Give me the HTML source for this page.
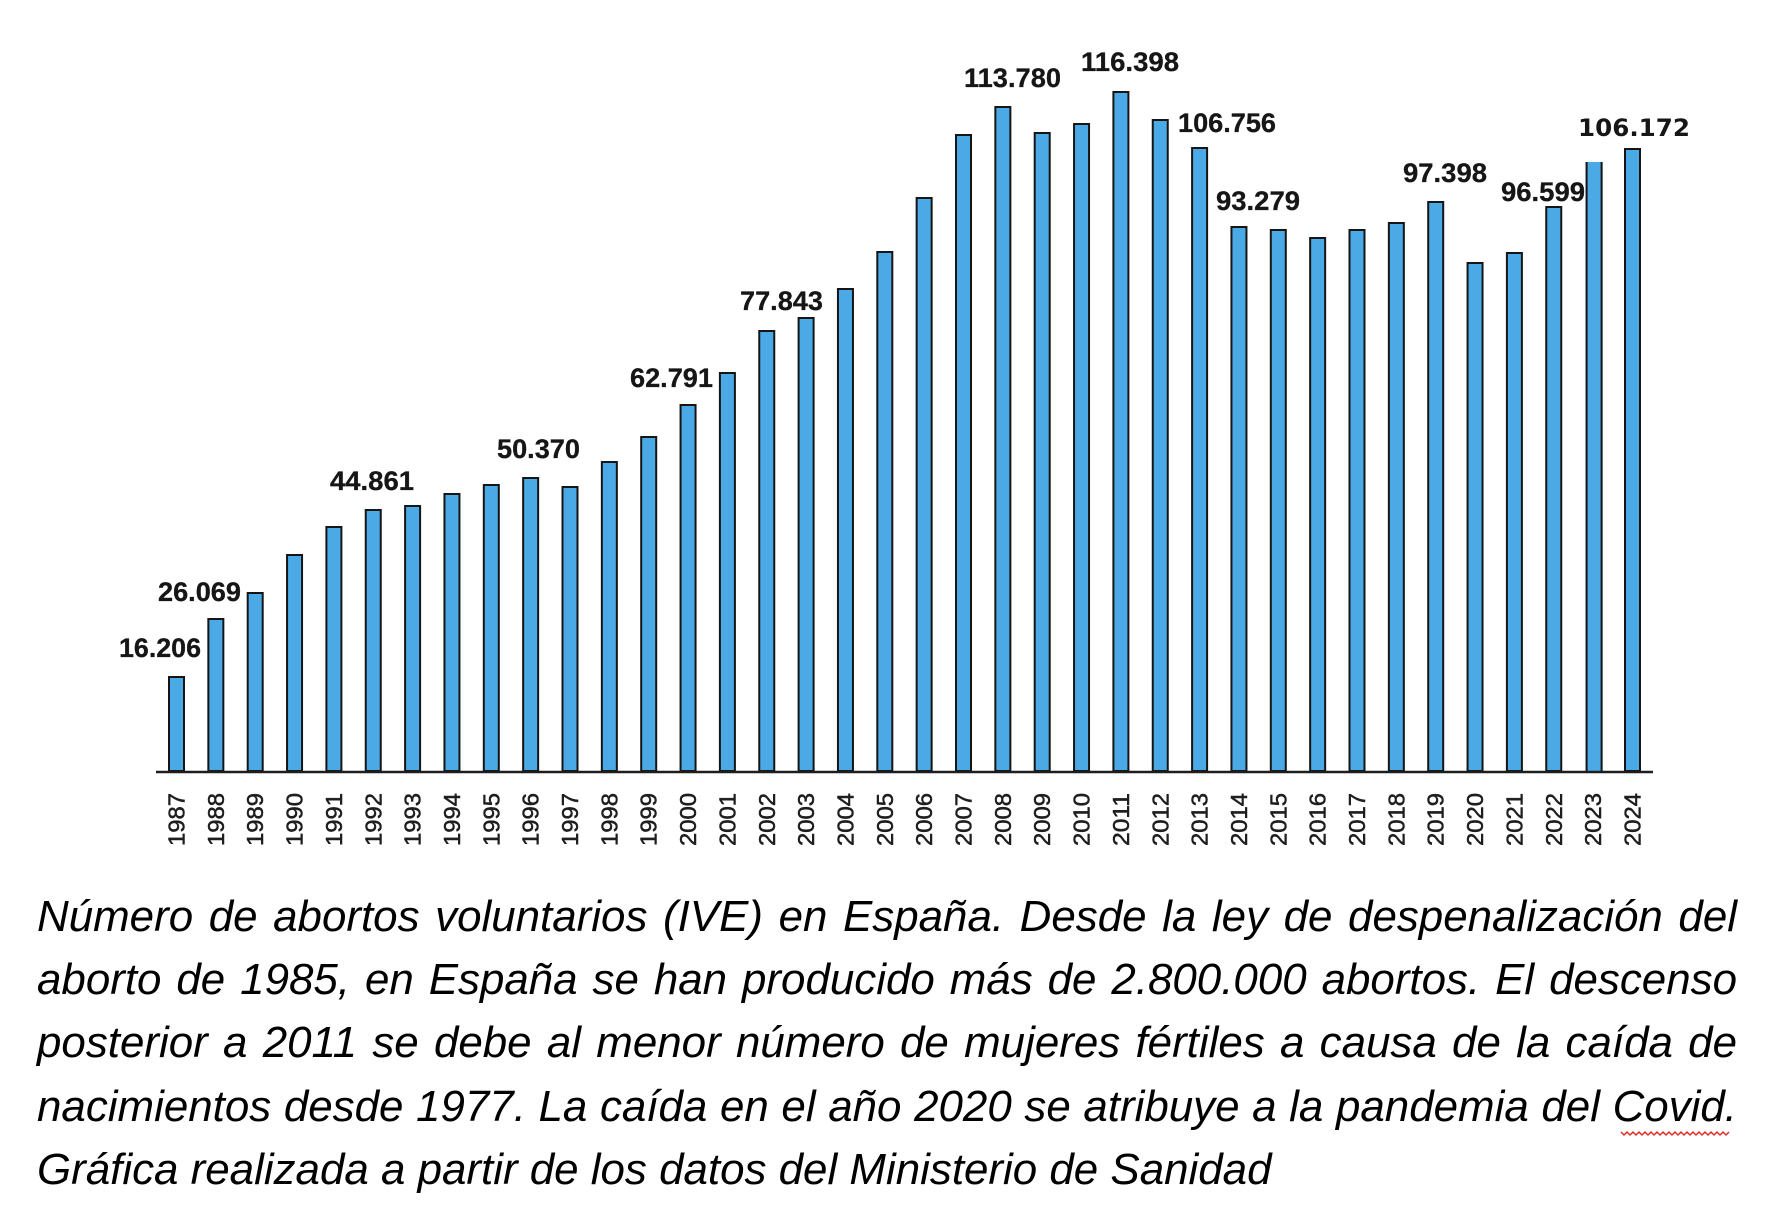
<!DOCTYPE html>
<html>
<head>
<meta charset="utf-8">
<style>
  html,body{margin:0;padding:0;background:#fff;}
  body{width:1781px;height:1228px;position:relative;overflow:hidden;}
  svg{position:absolute;left:0;top:0;}
  .cap{position:absolute;left:37px;width:1700px;font-family:"Liberation Sans",Arial,sans-serif;font-style:italic;font-size:43.9px;line-height:50px;color:#000;text-align:justify;text-align-last:justify;white-space:normal;}
  .cap.last{text-align:left;text-align-last:left;}
</style>
</head>
<body>
<svg width="1781" height="1228" viewBox="0 0 1781 1228" xmlns="http://www.w3.org/2000/svg">
  <g id="bars" fill="#4BA9E5" stroke="#151515" stroke-width="2">
    <rect x="169" y="677" width="15" height="94"/>
    <rect x="208.35" y="619" width="15" height="152"/>
    <rect x="247.7" y="593" width="15" height="178"/>
    <rect x="287.05" y="555" width="15" height="216"/>
    <rect x="326.4" y="527" width="15" height="244"/>
    <rect x="365.75" y="510" width="15" height="261"/>
    <rect x="405.1" y="506" width="15" height="265"/>
    <rect x="444.45" y="494" width="15" height="277"/>
    <rect x="483.8" y="485" width="15" height="286"/>
    <rect x="523.15" y="478" width="15" height="293"/>
    <rect x="562.5" y="487" width="15" height="284"/>
    <rect x="601.85" y="462" width="15" height="309"/>
    <rect x="641.2" y="437" width="15" height="334"/>
    <rect x="680.55" y="405" width="15" height="366"/>
    <rect x="719.9" y="373" width="15" height="398"/>
    <rect x="759.25" y="331" width="15" height="440"/>
    <rect x="798.6" y="318" width="15" height="453"/>
    <rect x="837.95" y="289" width="15" height="482"/>
    <rect x="877.3" y="252" width="15" height="519"/>
    <rect x="916.65" y="198" width="15" height="573"/>
    <rect x="956" y="135" width="15" height="636"/>
    <rect x="995.35" y="107" width="15" height="664"/>
    <rect x="1034.7" y="133" width="15" height="638"/>
    <rect x="1074.05" y="124" width="15" height="647"/>
    <rect x="1113.4" y="92" width="15" height="679"/>
    <rect x="1152.75" y="120" width="15" height="651"/>
    <rect x="1192.1" y="148" width="15" height="623"/>
    <rect x="1231.45" y="227" width="15" height="544"/>
    <rect x="1270.8" y="230" width="15" height="541"/>
    <rect x="1310.15" y="238" width="15" height="533"/>
    <rect x="1349.5" y="230" width="15" height="541"/>
    <rect x="1388.85" y="223" width="15" height="548"/>
    <rect x="1428.2" y="202" width="15" height="569"/>
    <rect x="1467.55" y="263" width="15" height="508"/>
    <rect x="1506.9" y="253" width="15" height="518"/>
    <rect x="1546.25" y="207" width="15" height="564"/>
    <rect x="1625" y="149" width="15" height="622"/>
  </g>
  <!-- 2023 bar: no top border -->
  <rect x="1585.6" y="162" width="17" height="609" fill="#4BA9E5"/>
  <line x1="1586.6" y1="162" x2="1586.6" y2="771" stroke="#151515" stroke-width="2"/>
  <line x1="1601.6" y1="162" x2="1601.6" y2="771" stroke="#151515" stroke-width="2"/>

  <!-- axis -->
  <line x1="156" y1="772" x2="1653" y2="772" stroke="#1e1e1e" stroke-width="2.5"/>

  <!-- value labels -->
  <g font-family="'Liberation Sans', Arial, sans-serif" font-weight="bold" font-size="27" fill="#161616" stroke="#161616" stroke-width="0.3">
    <text x="119" y="657" textLength="82" lengthAdjust="spacingAndGlyphs">16.206</text>
    <text x="158" y="601" textLength="83" lengthAdjust="spacingAndGlyphs">26.069</text>
    <text x="330" y="490" textLength="84" lengthAdjust="spacingAndGlyphs">44.861</text>
    <text x="497" y="458" textLength="83" lengthAdjust="spacingAndGlyphs">50.370</text>
    <text x="630" y="387" textLength="83" lengthAdjust="spacingAndGlyphs">62.791</text>
    <text x="740" y="310" textLength="83" lengthAdjust="spacingAndGlyphs">77.843</text>
    <text x="964" y="87" textLength="97" lengthAdjust="spacingAndGlyphs">113.780</text>
    <text x="1081" y="71" textLength="98" lengthAdjust="spacingAndGlyphs">116.398</text>
    <text x="1178" y="132" textLength="98" lengthAdjust="spacingAndGlyphs">106.756</text>
    <text x="1216" y="210" textLength="84" lengthAdjust="spacingAndGlyphs">93.279</text>
    <text x="1403" y="182" textLength="84" lengthAdjust="spacingAndGlyphs">97.398</text>
    <text x="1501" y="201" textLength="84" lengthAdjust="spacingAndGlyphs">96.599</text>
  </g>
  <text x="1578" y="136" font-family="'DejaVu Sans', Verdana, sans-serif" font-weight="bold" font-size="24" fill="#161616" textLength="112" lengthAdjust="spacingAndGlyphs">106.172</text>

  <!-- year labels -->
  <g font-family="'Liberation Sans', Arial, sans-serif" font-size="23.5" fill="#1e1e1e" stroke="#1e1e1e" stroke-width="0.5">
    <text transform="translate(184.5,846) rotate(-90)" textLength="53" lengthAdjust="spacingAndGlyphs">1987</text>
    <text transform="translate(223.85,846) rotate(-90)" textLength="53" lengthAdjust="spacingAndGlyphs">1988</text>
    <text transform="translate(263.2,846) rotate(-90)" textLength="53" lengthAdjust="spacingAndGlyphs">1989</text>
    <text transform="translate(302.55,846) rotate(-90)" textLength="53" lengthAdjust="spacingAndGlyphs">1990</text>
    <text transform="translate(341.9,846) rotate(-90)" textLength="53" lengthAdjust="spacingAndGlyphs">1991</text>
    <text transform="translate(381.25,846) rotate(-90)" textLength="53" lengthAdjust="spacingAndGlyphs">1992</text>
    <text transform="translate(420.6,846) rotate(-90)" textLength="53" lengthAdjust="spacingAndGlyphs">1993</text>
    <text transform="translate(459.95,846) rotate(-90)" textLength="53" lengthAdjust="spacingAndGlyphs">1994</text>
    <text transform="translate(499.3,846) rotate(-90)" textLength="53" lengthAdjust="spacingAndGlyphs">1995</text>
    <text transform="translate(538.65,846) rotate(-90)" textLength="53" lengthAdjust="spacingAndGlyphs">1996</text>
    <text transform="translate(578,846) rotate(-90)" textLength="53" lengthAdjust="spacingAndGlyphs">1997</text>
    <text transform="translate(617.35,846) rotate(-90)" textLength="53" lengthAdjust="spacingAndGlyphs">1998</text>
    <text transform="translate(656.7,846) rotate(-90)" textLength="53" lengthAdjust="spacingAndGlyphs">1999</text>
    <text transform="translate(696.05,846) rotate(-90)" textLength="53" lengthAdjust="spacingAndGlyphs">2000</text>
    <text transform="translate(735.4,846) rotate(-90)" textLength="53" lengthAdjust="spacingAndGlyphs">2001</text>
    <text transform="translate(774.75,846) rotate(-90)" textLength="53" lengthAdjust="spacingAndGlyphs">2002</text>
    <text transform="translate(814.1,846) rotate(-90)" textLength="53" lengthAdjust="spacingAndGlyphs">2003</text>
    <text transform="translate(853.45,846) rotate(-90)" textLength="53" lengthAdjust="spacingAndGlyphs">2004</text>
    <text transform="translate(892.8,846) rotate(-90)" textLength="53" lengthAdjust="spacingAndGlyphs">2005</text>
    <text transform="translate(932.15,846) rotate(-90)" textLength="53" lengthAdjust="spacingAndGlyphs">2006</text>
    <text transform="translate(971.5,846) rotate(-90)" textLength="53" lengthAdjust="spacingAndGlyphs">2007</text>
    <text transform="translate(1010.85,846) rotate(-90)" textLength="53" lengthAdjust="spacingAndGlyphs">2008</text>
    <text transform="translate(1050.2,846) rotate(-90)" textLength="53" lengthAdjust="spacingAndGlyphs">2009</text>
    <text transform="translate(1089.55,846) rotate(-90)" textLength="53" lengthAdjust="spacingAndGlyphs">2010</text>
    <text transform="translate(1128.9,846) rotate(-90)" textLength="53" lengthAdjust="spacingAndGlyphs">2011</text>
    <text transform="translate(1168.25,846) rotate(-90)" textLength="53" lengthAdjust="spacingAndGlyphs">2012</text>
    <text transform="translate(1207.6,846) rotate(-90)" textLength="53" lengthAdjust="spacingAndGlyphs">2013</text>
    <text transform="translate(1246.95,846) rotate(-90)" textLength="53" lengthAdjust="spacingAndGlyphs">2014</text>
    <text transform="translate(1286.3,846) rotate(-90)" textLength="53" lengthAdjust="spacingAndGlyphs">2015</text>
    <text transform="translate(1325.65,846) rotate(-90)" textLength="53" lengthAdjust="spacingAndGlyphs">2016</text>
    <text transform="translate(1365,846) rotate(-90)" textLength="53" lengthAdjust="spacingAndGlyphs">2017</text>
    <text transform="translate(1404.35,846) rotate(-90)" textLength="53" lengthAdjust="spacingAndGlyphs">2018</text>
    <text transform="translate(1443.7,846) rotate(-90)" textLength="53" lengthAdjust="spacingAndGlyphs">2019</text>
    <text transform="translate(1483.05,846) rotate(-90)" textLength="53" lengthAdjust="spacingAndGlyphs">2020</text>
    <text transform="translate(1522.4,846) rotate(-90)" textLength="53" lengthAdjust="spacingAndGlyphs">2021</text>
    <text transform="translate(1561.75,846) rotate(-90)" textLength="53" lengthAdjust="spacingAndGlyphs">2022</text>
    <text transform="translate(1601.1,846) rotate(-90)" textLength="53" lengthAdjust="spacingAndGlyphs">2023</text>
    <text transform="translate(1640.45,846) rotate(-90)" textLength="53" lengthAdjust="spacingAndGlyphs">2024</text>
  </g>

  <!-- red spell-check squiggle under "Covid" -->
  <path d="M1621 1132 l3 3 l3 -3 l3 3 l3 -3 l3 3 l3 -3 l3 3 l3 -3 l3 3 l3 -3 l3 3 l3 -3 l3 3 l3 -3 l3 3 l3 -3 l3 3 l3 -3 l3 3 l3 -3 l3 3 l3 -3 l3 3 l3 -3 l3 3 l3 -3 l3 3 l3 -3 l3 3 l3 -3 l3 3 l3 -3 l3 3 l3 -3 l3 3 l3 -3" fill="none" stroke="#e0302a" stroke-width="1.5"/>
</svg>

<div class="cap" style="top:892px;">Número de abortos voluntarios (IVE) en España. Desde la ley de despenalización del</div>
<div class="cap" style="top:955px;">aborto de 1985, en España se han producido más de 2.800.000 abortos. El descenso</div>
<div class="cap" style="top:1018px;">posterior a 2011 se debe al menor número de mujeres fértiles a causa de la caída de</div>
<div class="cap" style="top:1082px;">nacimientos desde 1977. La caída en el año 2020 se atribuye a la pandemia del Covid.</div>
<div class="cap last" style="top:1145px;">Gráfica realizada a partir de los datos del Ministerio de Sanidad</div>
</body>
</html>
